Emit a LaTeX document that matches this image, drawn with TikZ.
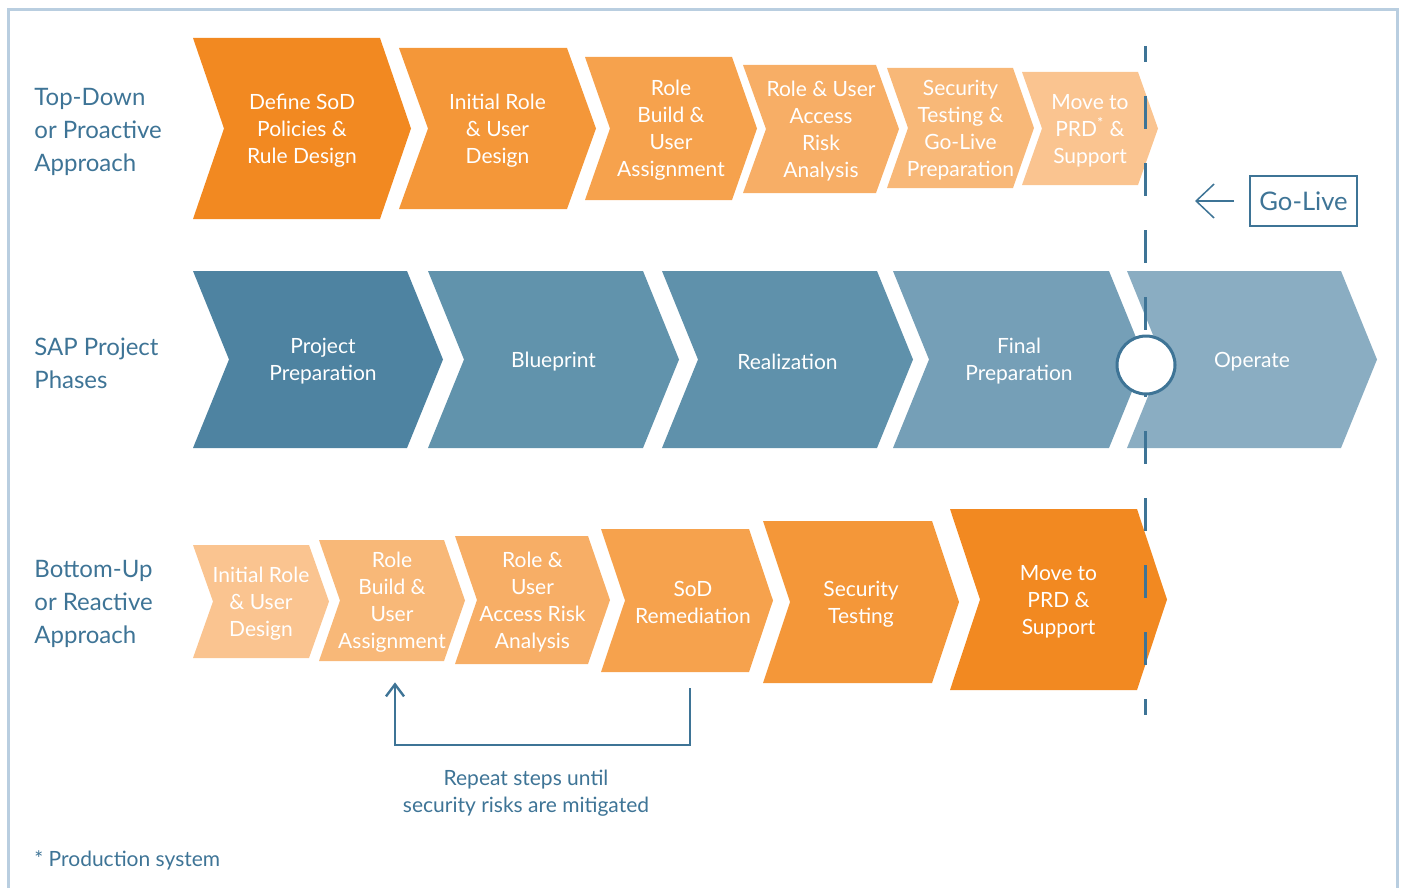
\documentclass[tikz,border=0pt]{standalone}
\usepackage{fontspec}
\setmainfont{Lato}
\usepackage{tikz}
\usetikzlibrary{arrows.meta, positioning}

\definecolor{orA}{RGB}{242,137,33}
\definecolor{orB}{RGB}{244,151,57}
\definecolor{orC}{RGB}{246,162,77}
\definecolor{orD}{RGB}{247,174,102}
\definecolor{orE}{RGB}{248,184,120}
\definecolor{orF}{RGB}{250,196,144}
\definecolor{blA}{RGB}{78,131,161}
\definecolor{blB}{RGB}{97,147,172}
\definecolor{blC}{RGB}{95,145,171}
\definecolor{blD}{RGB}{117,159,183}
\definecolor{blE}{RGB}{138,173,194}
\definecolor{inkblue}{RGB}{62,116,150}
\definecolor{framegrey}{RGB}{185,206,224}

\tikzstyle{steptext} = [inner sep=0pt, align=center, text=white, font=\fontsize{10.5}{13.5}\selectfont]
\tikzstyle{rowlabel} = [inner sep=0pt, anchor=west, align=left, text=inkblue, font=\fontsize{12}{16.5}\selectfont]
\tikzstyle{notetext} = [inner sep=0pt, align=center, text=inkblue, font=\fontsize{10.5}{13.5}\selectfont]
\tikzstyle{golivebox} = [rectangle, draw=inkblue, line width=1pt, minimum width=53.5pt, minimum height=25pt, text=inkblue, font=\fontsize{12.8}{16}\selectfont]
\tikzstyle{golivecirc} = [circle, draw=inkblue, fill=white, line width=1.5pt, minimum size=29pt, inner sep=0pt]
\tikzstyle{golivedash} = [draw=inkblue, line width=1.5pt, dash pattern=on 16.5pt off 17pt, dash phase=8.5pt]
\tikzstyle{goarrow} = [draw=inkblue, line width=0.75pt, -{Straight Barb[length=9pt, width=17pt]}]
\tikzstyle{looparrow} = [draw=inkblue, line width=1.2pt, -{Straight Barb[length=6pt, width=9pt]}]
\tikzstyle{frameline} = [draw=framegrey, line width=1.5pt]

% chevron: name, left x, right x, top y, bottom y, point depth, colour, text
\newcommand{\chev}[8]{%
  \fill[#7] (#2,#4) -- (#3,#4) -- ({#3+#6},{(#4+#5)/2}) -- (#3,#5) -- (#2,#5) -- ({#2+#6},{(#4+#5)/2}) -- cycle;
  \node[steptext, minimum height={(#5-#4)*0.5pt}] (#1) at ({(#2+#3+#6)/2},{(#4+#5)/2+2}) {#8};
}

\begin{document}
\begin{tikzpicture}[x=0.5pt, y=-0.5pt]
        \useasboundingbox (0,0) rectangle (1403,888);
        \draw [frameline] (8,888) -- (8,10) -- (1397,10) -- (1397,888);

        % Row labels
        \node (toplabel) [rowlabel] at (34,132) {Top-Down\\or Proactive\\Approach};
        \node (saplabel) [rowlabel] at (34,363) {SAP Project\\Phases};
        \node (botlabel) [rowlabel] at (34,604) {Bottom-Up\\or Reactive\\Approach};

        % Top-down
        \chev{tddefine}{193}{380}{38}{219}{31}{orA}{Define SoD\\Policies \&\\Rule Design}
        \chev{tdinit}{399}{567}{48}{209}{29}{orB}{Initial Role\\\& User\\Design}
        \chev{tdbuild}{585}{732}{57}{200}{25}{orC}{Role\\Build \&\\User\\Assignment}
        \chev{tdrisk}{743}{876}{65}{193}{23}{orD}{Role \& User\\Access\\Risk\\Analysis}
        \chev{tdtest}{887}{1013}{68}{188}{21}{orE}{Security\\Testing \&\\Go-Live\\Preparation}
        \chev{tdmove}{1022}{1138}{72}{185}{20}{orF}{Move to\\PRD\textsuperscript{*} \&\\Support}

        % SAP phases
        \chev{spprep}{193}{407}{271}{448}{36}{blA}{\hspace*{5pt}Project\\\hspace*{5pt}Preparation}
        \chev{spblue}{428}{643}{271}{448}{36}{blB}{Blueprint}
        \chev{spreal}{662}{877}{271}{448}{36}{blC}{Realization}
        \chev{spfinal}{893}{1109}{271}{448}{36}{blD}{Final\\Preparation}
        \chev{spoper}{1127}{1341}{271}{448}{36}{blE}{Operate}

        % Bottom-up
        \chev{buinit}{193}{309}{545}{658}{20}{orF}{Initial Role\\\& User\\Design}
        \chev{bubuild}{319}{444}{540}{661}{21}{orE}{Role\\Build \&\\User\\Assignment}
        \chev{burisk}{455}{588}{536}{664}{22}{orD}{Role \&\\User\\Access Risk\\Analysis}
        \chev{busod}{601}{749}{529}{672}{24}{orC}{\hspace*{6pt}SoD\\\hspace*{6pt}Remediation}
        \chev{butest}{763}{932}{521}{683}{27}{orB}{Security\\Testing}
        \chev{bumove}{950}{1137}{509}{690}{30}{orA}{Move to\\PRD \&\\Support}

        % Go-live marker
        \coordinate (livetop) at (1145,46);
        \coordinate (livebot) at (1145,715);
        \draw [golivedash] (livetop) -- (livebot);
        \node (livecirc) [golivecirc] at (1146,365) {};
        \node (golive) [golivebox] at (1303.5,201) {Go-Live};
        \coordinate (goend) at (1195,201);
        \draw [goarrow, shorten <=7.5pt] (golive.west) -- (goend);

        % Repeat loop
        \coordinate (loopbase) at (540,745);
        \draw [looparrow, shorten <=7pt, shorten >=9.5pt] ([xshift=1.5pt]busod.south) |- (loopbase) -| ([xshift=1.5pt]bubuild.south);
        \node (loopnote) [notetext] at (526,793) {Repeat steps until\\security risks are mitigated};

        \node (footnote) [notetext, anchor=west] at (34,860) {* Production system};
    \end{tikzpicture}
\end{document}
